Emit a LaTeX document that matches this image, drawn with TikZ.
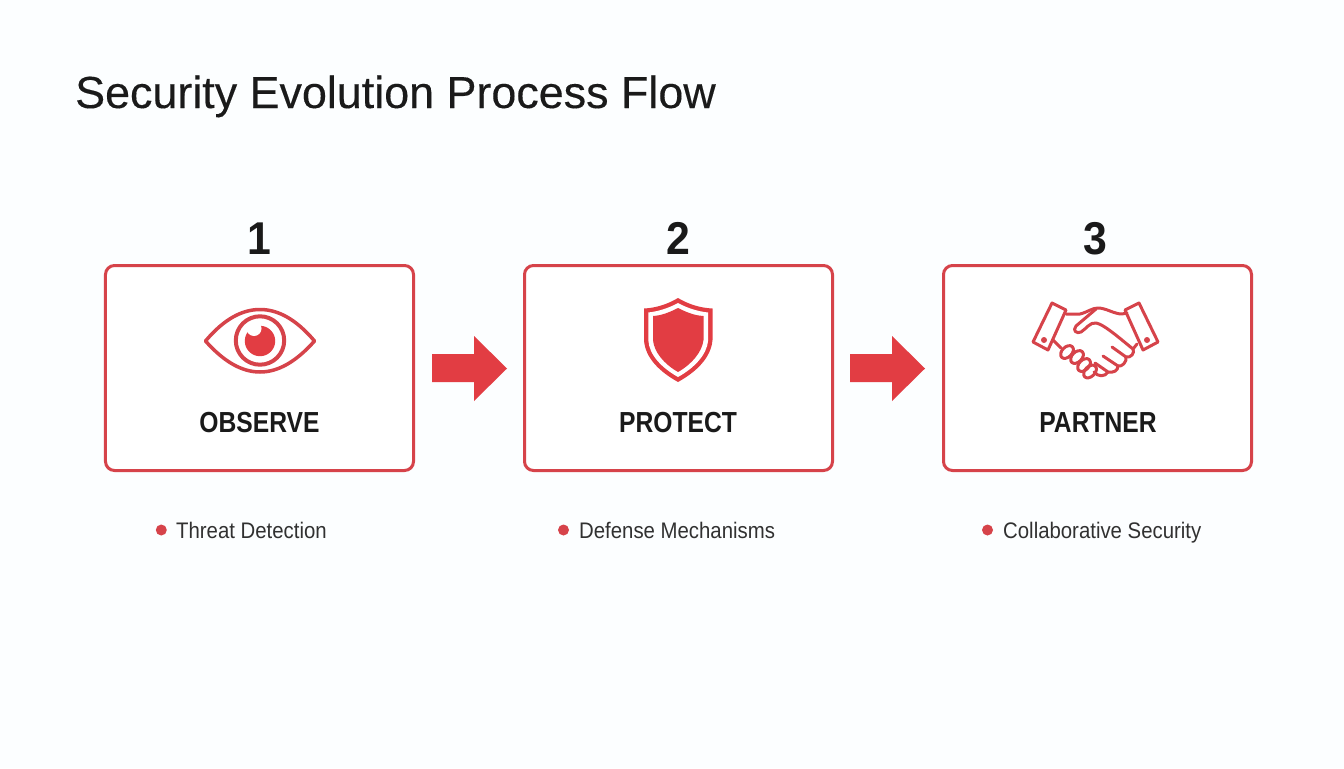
\documentclass[tikz,border=0pt]{standalone}
\usepackage{fontspec}
\setmainfont{Liberation Sans}
\newfontfamily\titlefont[FakeBold=0.25]{Liberation Sans}
\newfontfamily\labfont[FakeStretch=0.85]{Liberation Sans Bold}
\newfontfamily\numfont[FakeStretch=0.93]{Liberation Sans Bold}
\newfontfamily\subfont[FakeStretch=0.905]{Liberation Sans}
\definecolor{boxred}{HTML}{D6434A}
\definecolor{fillred}{HTML}{E23D43}
\definecolor{ink}{HTML}{1A1A1A}
\tikzset{
  stepbox/.style={draw=boxred,line width=3bp,rounded corners=9bp,fill=white,minimum width=308bp,minimum height=205bp,inner sep=0pt},
  numtext/.style={font=\numfont\fontsize{46bp}{46bp}\selectfont,text=ink,inner sep=0pt,anchor=base},
  labtext/.style={font=\labfont\fontsize{29bp}{29bp}\selectfont,text=ink,inner sep=0pt,anchor=base},
  subtext/.style={font=\subfont\fontsize{22.5bp}{22.5bp}\selectfont,text=ink!90,inner sep=0pt,anchor=base west},
  dotnode/.style={circle,fill=boxred,minimum size=11bp,inner sep=0pt},
  blockarrow/.style={fill=fillred,draw=none},
  iconline/.style={draw=boxred,line width=3.5bp,line join=round,line cap=round},
  handline/.style={draw=boxred,line width=3bp,line join=round,line cap=round}
}
\begin{document}
\begin{tikzpicture}[x=1bp,y=-1bp]
\useasboundingbox (0,0) rectangle (1344,768);
\fill[white!99!cyan] (0,0) rectangle (1344,768);
\node[font=\titlefont\fontsize{44.85bp}{45bp}\selectfont,text=ink,anchor=base west,inner sep=0pt] (title) at (75,108) {Security Evolution Process Flow};

\node[stepbox] (b1) at (259.5,368) {};
\node[stepbox] (b2) at (678.5,368) {};
\node[stepbox] (b3) at (1097.5,368) {};

\node[numtext] (n1) at (259,254) {1};
\node[numtext] (n2) at (678,254) {2};
\node[numtext] (n3) at (1095,254) {3};

\node[labtext] (l1) at (259.5,432) {OBSERVE};
\node[labtext] (l2) at (678,432) {PROTECT};
\node[labtext] (l3) at (1098,432) {PARTNER};

\node[dotnode] (d1) at (161.3,530) {};
\node[dotnode] (d2) at (563.5,530) {};
\node[dotnode] (d3) at (987.5,530) {};
\node[subtext] (s1) at (176,538) {Threat Detection};
\node[subtext] (s2) at (579,538) {Defense Mechanisms};
\node[subtext] (s3) at (1003,538) {Collaborative Security};

% block arrows
\foreach \dx in {0,418}{
  \fill[blockarrow,shift={(\dx,0)}] (432,354) -- (474,354) -- (474,336) -- (507,368.5) -- (474,401) -- (474,382) -- (432,382) -- cycle;
}

% eye
\draw[iconline] (205.5,341) .. controls (225,318) and (243,309.5) .. (260,309.5) .. controls (277,309.5) and (295,318) .. (314.5,341) .. controls (295,363) and (277,372) .. (260,372) .. controls (243,372) and (225,363) .. (205.5,341) -- cycle;
\draw[iconline,line width=4bp] (260,340.5) circle (24.2);
\fill[fillred] (260,341) circle (15.2);
\fill[white] (254,328.5) circle (7.5);

% shield
\fill[fillred] (678,298) .. controls (668,304) and (656,308) .. (644,308.5) -- (644,340) .. controls (645,358) and (660,372) .. (678,382) .. controls (696,372) and (711,358) .. (712.5,340) -- (712.5,308.5) .. controls (700,308) and (688,304) .. (678,298) -- cycle;
\fill[white] (678,303) .. controls (669,308) and (658,311.5) .. (648.3,312.5) -- (648.3,340) .. controls (649,355) and (662,368) .. (678,377) .. controls (694,368) and (707,355) .. (708.2,340) -- (708.2,312.5) .. controls (698,311.5) and (687,308) .. (678,303) -- cycle;
\fill[fillred] (678,308) .. controls (670,312) and (662,315.5) .. (653,316) -- (653,340) .. controls (654,352) and (664,364) .. (678,372) .. controls (692,364) and (702,352) .. (703.5,340) -- (703.5,316) .. controls (694,315.5) and (686,312) .. (678,308) -- cycle;

% handshake
\draw[handline] (1052,303) -- (1066,310) -- (1048,350) -- (1033,342) -- cycle;
\draw[handline] (1139,303) -- (1125,310) -- (1143,350) -- (1158,342) -- cycle;
\fill[boxred] (1044,340) circle (3);
\fill[boxred] (1147,340) circle (3);
\draw[handline] (1066,314) -- (1080,314) .. controls (1088,312) and (1092,308) .. (1098,308) .. controls (1106,308) and (1114,314) .. (1122,314) -- (1127,313);
\draw[handline] (1096,309) -- (1076,326) .. controls (1072,331) and (1077,334) .. (1081,332) .. controls (1086,329) and (1090,322) .. (1096,323) .. controls (1104,324) and (1124,342) .. (1133,349) .. controls (1135,353) and (1131,358) .. (1126,357) -- (1112,347);
\draw[handline] (1133,349) -- (1137,344);
\draw[handline] (1053,340) -- (1061,348);
\draw[handline] (1126,357) .. controls (1127,362) and (1122,367) .. (1118,366) -- (1103,356);
\draw[handline] (1118,366) .. controls (1118,371) and (1113,373) .. (1108,372) -- (1095,363);
\draw[handline] (1108,372) .. controls (1105,377) and (1098,377) .. (1094,372);
\foreach \cx/\cy/\ang in {1067/352/45,1077/357/45,1084/365/45,1090/371.5/45}{
  \draw[handline,rotate around={\ang:(\cx,\cy)}] (\cx,\cy) ellipse (7.5 and 5);
}
\end{tikzpicture}
\end{document}
